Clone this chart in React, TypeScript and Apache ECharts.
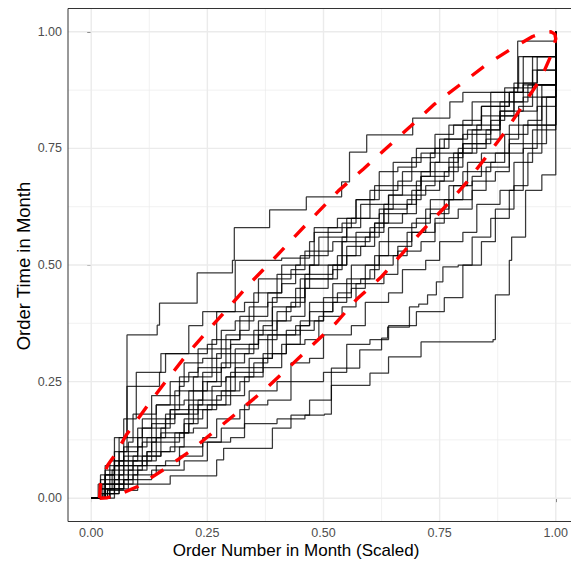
import React, { useEffect, useRef } from "react";
import * as echarts from "echarts";

// tick values
const majorTicks = [0, 0.25, 0.5, 0.75, 1];
const minorTicks = [0.125, 0.375, 0.625, 0.875];

// order step lines: [scaled order number, order time in month]
const month01 = [[0,0],[0.02,0.03],[0.03,0.05],[0.05,0.13],[0.077,0.35],[0.142,0.371],[0.147,0.418],[0.228,0.483],[0.304,0.51],[0.308,0.58],[0.384,0.618],[0.463,0.646],[0.539,0.678],[0.556,0.742],[0.593,0.779],[0.692,0.815],[0.772,0.85],[0.8,0.87],[0.918,0.98],[1,1]];
const month02 = [[0,0],[0.025,0.03],[0.05,0.08],[0.07,0.17],[0.097,0.27],[0.15,0.31],[0.21,0.37],[0.24,0.4],[0.31,0.51],[0.41,0.515],[0.47,0.55],[0.48,0.58],[0.53,0.6],[0.57,0.64],[0.62,0.7],[0.66,0.71],[0.7,0.75],[0.76,0.77],[0.8,0.81],[0.84,0.84],[0.9,0.87],[0.95,0.918],[1,1]];
const month03 = [[0,0],[0.03,0.05],[0.06,0.1],[0.077,0.24],[0.147,0.27],[0.16,0.31],[0.25,0.33],[0.27,0.4],[0.33,0.42],[0.36,0.47],[0.43,0.49],[0.46,0.53],[0.52,0.55],[0.55,0.6],[0.62,0.62],[0.65,0.67],[0.71,0.69],[0.73,0.74],[0.8,0.76],[0.83,0.8],[0.88,0.83],[0.91,0.89],[0.96,0.918],[1,1]];
const month04 = [[0,0],[0.02,0.02],[0.045,0.06],[0.09,0.08],[0.1,0.15],[0.16,0.17],[0.18,0.23],[0.25,0.25],[0.27,0.31],[0.34,0.33],[0.36,0.38],[0.42,0.41],[0.45,0.47],[0.52,0.49],[0.54,0.55],[0.6,0.57],[0.63,0.63],[0.69,0.66],[0.71,0.7],[0.77,0.73],[0.8,0.78],[0.86,0.81],[0.89,0.85],[0.94,0.886],[1,1]];
const month05 = [[0,0],[0.03,0.02],[0.05,0.07],[0.11,0.09],[0.13,0.12],[0.19,0.14],[0.21,0.2],[0.27,0.22],[0.3,0.27],[0.35,0.29],[0.38,0.35],[0.45,0.37],[0.47,0.42],[0.53,0.44],[0.56,0.5],[0.62,0.52],[0.64,0.58],[0.7,0.6],[0.73,0.64],[0.78,0.67],[0.81,0.72],[0.87,0.74],[0.9,0.8],[0.96,0.84],[1,1]];
const month06 = [[0,0],[0.02,0.04],[0.06,0.05],[0.07,0.11],[0.12,0.13],[0.14,0.2],[0.2,0.21],[0.22,0.26],[0.26,0.28],[0.29,0.35],[0.37,0.37],[0.39,0.43],[0.44,0.45],[0.47,0.5],[0.55,0.52],[0.57,0.57],[0.61,0.59],[0.64,0.65],[0.72,0.67],[0.74,0.72],[0.79,0.74],[0.82,0.79],[0.88,0.82],[0.91,0.88],[0.95,0.947],[1,1]];
const month07 = [[0,0],[0.04,0.01],[0.06,0.05],[0.1,0.06],[0.12,0.1],[0.17,0.11],[0.2,0.17],[0.24,0.19],[0.26,0.23],[0.32,0.25],[0.34,0.3],[0.39,0.31],[0.42,0.36],[0.48,0.38],[0.5,0.43],[0.56,0.45],[0.59,0.5],[0.65,0.52],[0.68,0.57],[0.74,0.59],[0.76,0.64],[0.82,0.66],[0.85,0.71],[0.9,0.74],[0.93,0.8],[0.97,0.86],[1,1]];
const month08 = [[0,0],[0.015,0.03],[0.04,0.08],[0.08,0.12],[0.09,0.18],[0.14,0.2],[0.17,0.25],[0.21,0.27],[0.23,0.32],[0.3,0.34],[0.32,0.39],[0.38,0.42],[0.4,0.48],[0.47,0.5],[0.49,0.56],[0.55,0.58],[0.58,0.63],[0.64,0.65],[0.67,0.7],[0.73,0.72],[0.75,0.77],[0.81,0.79],[0.84,0.84],[0.9,0.87],[0.93,0.947],[1,1]];
const month09 = [[0,0],[0.035,0.02],[0.07,0.04],[0.09,0.09],[0.15,0.1],[0.18,0.14],[0.22,0.15],[0.25,0.2],[0.3,0.22],[0.33,0.26],[0.37,0.28],[0.41,0.33],[0.46,0.34],[0.49,0.39],[0.54,0.41],[0.57,0.46],[0.63,0.48],[0.66,0.53],[0.71,0.55],[0.74,0.6],[0.79,0.62],[0.82,0.68],[0.87,0.7],[0.9,0.76],[0.95,0.79],[1,1]];
const month10 = [[0,0],[0.025,0.01],[0.05,0.04],[0.08,0.06],[0.11,0.12],[0.14,0.13],[0.16,0.18],[0.23,0.2],[0.24,0.25],[0.29,0.26],[0.31,0.32],[0.36,0.34],[0.4,0.38],[0.43,0.39],[0.46,0.45],[0.51,0.47],[0.53,0.52],[0.58,0.54],[0.61,0.59],[0.67,0.61],[0.7,0.66],[0.75,0.68],[0.78,0.74],[0.83,0.76],[0.86,0.82],[0.92,0.84],[0.95,0.886],[1,1]];
const month11 = [[0,0],[0.02,0.05],[0.05,0.07],[0.06,0.13],[0.11,0.15],[0.13,0.22],[0.19,0.24],[0.2,0.29],[0.24,0.3],[0.28,0.36],[0.31,0.38],[0.35,0.44],[0.41,0.46],[0.44,0.5],[0.48,0.52],[0.51,0.58],[0.56,0.6],[0.6,0.66],[0.66,0.68],[0.69,0.73],[0.74,0.75],[0.77,0.8],[0.84,0.82],[0.86,0.87],[0.93,0.89],[0.96,0.947],[1,1]];
const month12 = [[0,0],[0.03,0.03],[0.06,0.08],[0.12,0.1],[0.13,0.16],[0.18,0.18],[0.21,0.23],[0.26,0.24],[0.28,0.29],[0.33,0.31],[0.35,0.36],[0.4,0.4],[0.43,0.42],[0.46,0.48],[0.52,0.5],[0.55,0.54],[0.59,0.56],[0.62,0.61],[0.68,0.63],[0.7,0.68],[0.76,0.7],[0.79,0.75],[0.85,0.77],[0.88,0.83],[0.93,0.86],[1,1]];
const month13 = [[0,0],[0.04,0.02],[0.08,0.03],[0.1,0.07],[0.16,0.08],[0.19,0.11],[0.24,0.13],[0.27,0.17],[0.32,0.19],[0.34,0.23],[0.4,0.25],[0.43,0.29],[0.47,0.3],[0.5,0.35],[0.56,0.37],[0.59,0.42],[0.64,0.44],[0.67,0.49],[0.72,0.51],[0.75,0.55],[0.8,0.57],[0.83,0.63],[0.88,0.66],[0.91,0.72],[0.95,0.76],[0.98,0.86],[1,1]];
const month14 = [[0,0],[0.02,0.02],[0.03,0.07],[0.07,0.09],[0.1,0.13],[0.15,0.15],[0.17,0.19],[0.22,0.21],[0.24,0.27],[0.28,0.28],[0.3,0.33],[0.36,0.35],[0.39,0.41],[0.44,0.43],[0.46,0.47],[0.51,0.5],[0.54,0.56],[0.6,0.58],[0.63,0.62],[0.68,0.64],[0.71,0.69],[0.77,0.71],[0.8,0.76],[0.85,0.79],[0.88,0.85],[0.93,0.886],[1,1]];
const month15 = [[0,0],[0.03,0.06],[0.05,0.1],[0.1,0.11],[0.11,0.17],[0.17,0.19],[0.19,0.26],[0.23,0.28],[0.26,0.34],[0.32,0.36],[0.34,0.41],[0.38,0.44],[0.41,0.5],[0.45,0.52],[0.48,0.57],[0.54,0.59],[0.57,0.64],[0.61,0.67],[0.65,0.72],[0.71,0.74],[0.74,0.78],[0.78,0.8],[0.82,0.85],[0.89,0.88],[0.92,0.947],[1,1]];
const month16 = [[0,0],[0.02,0.01],[0.06,0.03],[0.08,0.08],[0.13,0.09],[0.15,0.14],[0.21,0.16],[0.23,0.21],[0.28,0.23],[0.31,0.28],[0.37,0.3],[0.39,0.35],[0.44,0.37],[0.47,0.4],[0.52,0.42],[0.55,0.47],[0.6,0.49],[0.62,0.55],[0.69,0.57],[0.72,0.62],[0.77,0.64],[0.8,0.7],[0.86,0.72],[0.89,0.78],[0.94,0.81],[0.97,0.886],[1,1]];
const month17 = [[0,0],[0.05,0.03],[0.07,0.07],[0.12,0.08],[0.14,0.13],[0.2,0.16],[0.22,0.19],[0.27,0.2],[0.29,0.26],[0.35,0.27],[0.37,0.31],[0.42,0.33],[0.45,0.38],[0.5,0.4],[0.52,0.46],[0.58,0.47],[0.61,0.52],[0.66,0.54],[0.69,0.59],[0.73,0.61],[0.77,0.67],[0.82,0.69],[0.84,0.74],[0.9,0.77],[0.92,0.83],[0.96,0.886],[1,1]];
const month18 = [[0,0],[0.035,0.017],[0.1,0.03],[0.17,0.048],[0.27,0.082],[0.285,0.107],[0.39,0.15],[0.43,0.178],[0.47,0.21],[0.517,0.242],[0.6,0.268],[0.64,0.303],[0.71,0.335],[0.865,0.34],[0.87,0.436],[0.9,0.51],[0.905,0.56],[0.935,0.66],[0.97,0.693],[1,1]];
const month19 = [[0,0],[0.03,0.02],[0.07,0.04],[0.13,0.06],[0.2,0.08],[0.25,0.12],[0.3,0.13],[0.33,0.16],[0.4,0.17],[0.46,0.178],[0.502,0.18],[0.517,0.279],[0.578,0.318],[0.625,0.343],[0.638,0.367],[0.685,0.41],[0.705,0.416],[0.724,0.436],[0.743,0.464],[0.757,0.496],[0.79,0.5],[0.82,0.56],[0.86,0.6],[0.9,0.66],[0.93,0.75],[0.96,0.8],[1,1]];
const month20 = [[0,0],[0.04,0.03],[0.09,0.05],[0.14,0.07],[0.19,0.09],[0.24,0.12],[0.28,0.15],[0.33,0.2],[0.38,0.21],[0.43,0.25],[0.5,0.27],[0.55,0.33],[0.6,0.34],[0.64,0.37],[0.7,0.4],[0.76,0.43],[0.8,0.5],[0.84,0.55],[0.87,0.62],[0.91,0.67],[0.94,0.74],[0.97,0.8],[1,1]];

// red dashed envelope (upper edge then lower edge back)
const bandUpper = [[0.018,0.0],[0.02,0.03],[0.035,0.07],[0.054,0.097],[0.075,0.135],[0.12,0.197],[0.16,0.25],[0.205,0.307],[0.25,0.358],[0.295,0.408],[0.343,0.462],[0.39,0.51],[0.44,0.563],[0.485,0.61],[0.532,0.659],[0.586,0.706],[0.637,0.752],[0.688,0.798],[0.739,0.845],[0.793,0.886],[0.85,0.929],[0.908,0.966],[0.95,0.99],[0.975,0.999],[0.99,1.0],[0.998,0.995],[1.0,0.985]];
const bandLower = [[0.99,0.95],[0.968,0.9],[0.931,0.845],[0.892,0.787],[0.851,0.733],[0.808,0.677],[0.763,0.626],[0.716,0.577],[0.668,0.523],[0.623,0.473],[0.572,0.427],[0.526,0.375],[0.478,0.33],[0.425,0.28],[0.375,0.234],[0.321,0.189],[0.268,0.146],[0.213,0.101],[0.157,0.062],[0.1,0.025],[0.06,0.008],[0.035,0.001],[0.018,0.0]];

const months = [month01, month02, month03, month04, month05, month06, month07, month08, month09, month10,
  month11, month12, month13, month14, month15, month16, month17, month18, month19, month20];

const FONT = "Liberation Sans, Arial, sans-serif";

export default function App() {
  const ref = useRef<HTMLDivElement>(null);
  useEffect(() => {
    if (!ref.current) return;
    const chart = echarts.init(ref.current, null, { renderer: "svg" });
    const lo = -0.05, hi = 1.05;
    const gridSeries: any[] = [];
    const addGrid = (v: number, major: boolean) => {
      const ls = { color: "#EBEBEB", width: major ? 1.4 : 0.7 };
      gridSeries.push({ type: "line", data: [[v, lo], [v, hi]], symbol: "none", silent: true, clip: false, z: 1, lineStyle: ls });
      gridSeries.push({ type: "line", data: [[lo, v], [hi, v]], symbol: "none", silent: true, clip: false, z: 1, lineStyle: ls });
    };
    minorTicks.forEach((v) => addGrid(v, false));
    majorTicks.forEach((v) => addGrid(v, true));
    const axisCommon = {
      type: "value" as const,
      min: lo,
      max: hi,
      axisLine: { show: false },
      splitLine: { show: false },
      axisTick: { show: true, customValues: majorTicks, length: 4, lineStyle: { color: "#333333", width: 1 } },
    };
    chart.setOption({
      animation: false,
      grid: { left: 68, top: 8.5, width: 511, height: 513, show: false },
      xAxis: {
        ...axisCommon,
        axisLabel: { customValues: majorTicks, formatter: (v: number) => v.toFixed(2), color: "#4D4D4D", fontSize: 12.5, margin: 5, fontFamily: FONT },
      },
      yAxis: {
        ...axisCommon,
        axisLabel: { customValues: majorTicks, formatter: (v: number) => v.toFixed(2), color: "#4D4D4D", fontSize: 12.5, margin: 6, fontFamily: FONT },
      },
      series: [
        ...gridSeries,
        ...months.map((d) => ({
          type: "line",
          data: d,
          step: "end",
          symbol: "none",
          silent: true,
          clip: false,
          z: 2,
          lineStyle: { color: "rgba(0,0,0,0.78)", width: 1.25 },
        })),
        {
          type: "line",
          data: [...bandUpper, ...bandLower],
          symbol: "none",
          silent: true,
          clip: false,
          z: 3,
          lineStyle: { color: "#FF0000", width: 3.4, type: [15, 15], cap: "butt" },
        },
      ],
      graphic: [
        {
          type: "rect",
          z: 10,
          silent: true,
          shape: { x: 68, y: 8.5, width: 511, height: 513 },
          style: { fill: "none", stroke: "#333333", lineWidth: 1 },
        },
        {
          type: "text",
          x: 296,
          y: 550,
          style: { text: "Order Number in Month (Scaled)", font: `17px ${FONT}`, fill: "#000000", align: "center", verticalAlign: "middle" },
        },
        {
          type: "text",
          x: 23,
          y: 266,
          rotation: Math.PI / 2,
          style: { text: "Order Time in Month", font: `18.5px ${FONT}`, fill: "#000000", align: "center", verticalAlign: "middle" },
        },
      ],
    });
    return () => chart.dispose();
  }, []);
  return (
    <div style={{ position: "fixed", left: 0, top: 0, width: 571, height: 563, overflow: "hidden", background: "#fff" }}>
      <div ref={ref} style={{ position: "absolute", left: 0, top: 0, width: 640, height: 563 }} />
    </div>
  );
}
